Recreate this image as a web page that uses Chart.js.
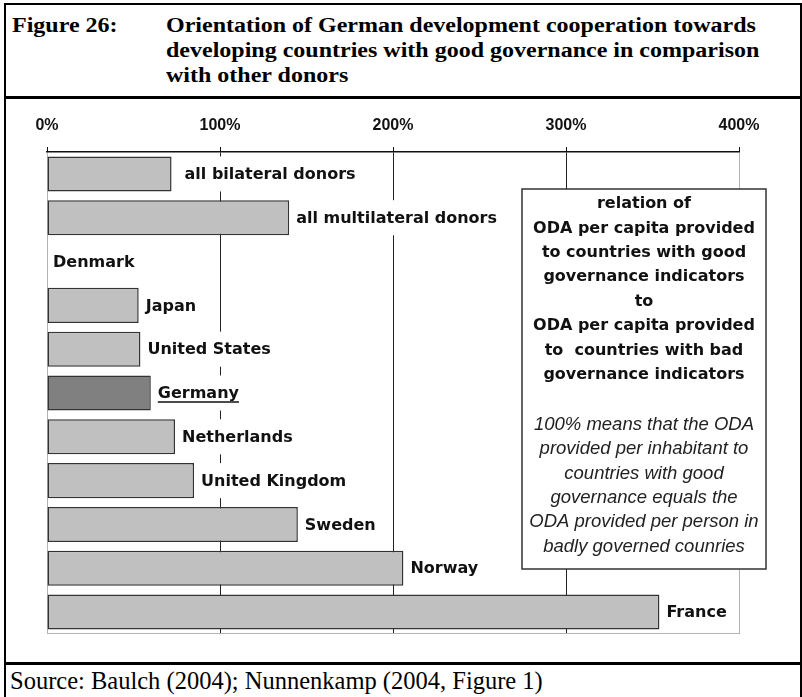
<!DOCTYPE html>
<html lang="en">
<head>
<meta charset="UTF-8">
<title>Figure 26</title>
<script src="https://cdn.jsdelivr.net/npm/chart.js"></script>
<style>
    body { margin: 0; background: #fff; width: 802px; height: 697px; overflow: hidden; position: relative; }
    .frame { position: absolute; left: 4px; top: 3px; width: 794px; height: 720px; border: 2px solid #000; border-bottom: none; }
    .rule { position: absolute; left: 4px; width: 796px; height: 3px; background: #000; }
    .title {
        position: absolute; top: 13px;
        font-family: "Liberation Serif", "Times New Roman", serif;
        font-weight: bold; font-size: 20px; line-height: 25px;
        transform: scaleX(1.2); transform-origin: 0 0; white-space: nowrap; color: #000;
    }
    .source {
        position: absolute; left: 10px; top: 667px;
        font-family: "Liberation Serif", "Times New Roman", serif;
        font-size: 24.5px; line-height: 28px; white-space: nowrap; color: #000;
    }
    #chart { position: absolute; left: 6px; top: 99px; }
</style>
</head>
<body>
    <div class="frame"></div>
    <div class="title" style="left: 12px;">Figure 26:</div>
    <div class="title" style="left: 166px;">Orientation of German development cooperation towards<br>developing countries with good governance in comparison<br>with other donors</div>
    <div class="rule" style="top: 96px;"></div>
    <canvas id="chart" width="793" height="563"></canvas>
    <div class="rule" style="top: 662px;"></div>
    <div class="source">Source: Baulch (2004); Nunnenkamp (2004, Figure 1)</div>

<script>
    // data (ratio in %)
    var categories = ['all bilateral donors', 'all multilateral donors', 'Denmark', 'Japan', 'United States',
        'Germany', 'Netherlands', 'United Kingdom', 'Sweden', 'Norway', 'France'];
    var ratios = [72, 140, 0, 53, 54, 60, 74, 85, 145, 206, 354];
    var tickValues = [0, 100, 200, 300, 400];
    var highlighted = 'Germany';

    var noteBold = ['relation of', 'ODA per capita provided', 'to countries with good', 'governance indicators',
        'to', 'ODA per capita provided', 'to  countries with bad', 'governance indicators'];
    var noteItalic = ['100% means that the ODA', 'provided per inhabitant to', 'countries with good',
        'governance equals the', 'ODA provided per person in', 'badly governed counries'];

    var labelFont = 'bold 16px "DejaVu Sans", Verdana, sans-serif';

    // labels next to the bars, on a white patch that hides the grid
    var barLabels = {
        id: 'barLabels',
        beforeDatasetsDraw: function (chart) {
            var a = chart.chartArea, ctx = chart.ctx;
            ctx.save();
            ctx.strokeStyle = '#b4b4b4';
            ctx.lineWidth = 1;
            ctx.beginPath();
            ctx.moveTo(a.left, Math.round(a.bottom) - 0.5);
            ctx.lineTo(a.right, Math.round(a.bottom) - 0.5);
            ctx.stroke();
            ctx.restore();
        },
        afterDatasetsDraw: function (chart) {
            var ctx = chart.ctx;
            var meta = chart.getDatasetMeta(0);
            ctx.save();
            ctx.font = labelFont;
            ctx.textBaseline = 'middle';
            meta.data.forEach(function (bar, i) {
                var p = bar.getProps(['x', 'y', 'height'], true);
                var name = categories[i];
                var gap = ratios[i] ? 7 : 6;
                if (i === 0) gap = 13;
                var x = p.x + gap;
                var w = ctx.measureText(name).width;
                ctx.fillStyle = '#fff';
                ctx.fillRect(x - 3, p.y - p.height / 2, w + 6, p.height);
                ctx.fillStyle = '#111';
                ctx.fillText(name, x, p.y + 1);
                if (name === highlighted) {
                    ctx.strokeStyle = '#111';
                    ctx.lineWidth = 1.5;
                    ctx.beginPath();
                    ctx.moveTo(x, p.y + 9);
                    ctx.lineTo(x + w, p.y + 9);
                    ctx.stroke();
                }
            });
            ctx.restore();
        },
        afterDraw: function (chart) {
            var ctx = chart.ctx;
            var left = 516, top = 90, right = 760, bottom = 470;
            var cx = (left + right) / 2;
            ctx.save();
            ctx.fillStyle = '#fff';
            ctx.fillRect(left, top, right - left, bottom - top);
            ctx.strokeStyle = '#333';
            ctx.lineWidth = 1.5;
            ctx.strokeRect(left, top, right - left, bottom - top);
            ctx.textAlign = 'center';
            ctx.textBaseline = 'middle';
            ctx.fillStyle = '#111';
            ctx.font = labelFont;
            noteBold.forEach(function (line, i) {
                ctx.fillText(line, cx, top + 15 + i * 24.4);
            });
            ctx.fillStyle = '#222';
            ctx.font = 'italic 18.5px "Liberation Sans", Arial, sans-serif';
            noteItalic.forEach(function (line, i) {
                ctx.fillText(line, cx, top + 236 + i * 24.3);
            });
            ctx.restore();
        }
    };

    var chart = new Chart(document.getElementById('chart').getContext('2d'), {
        type: 'bar',
        data: {
            labels: categories,
            datasets: [{
                data: ratios,
                backgroundColor: function (c) { return categories[c.dataIndex] === highlighted ? '#808080' : '#c0c0c0'; },
                borderColor: '#333',
                borderWidth: function (c) { return c.raw ? 1.5 : 0; },
                borderSkipped: false,
                barPercentage: 0.8,
                categoryPercentage: 1
            }]
        },
        options: {
            indexAxis: 'y',
            responsive: false,
            animation: false,
            layout: { padding: { left: 41, right: 60, top: 0, bottom: 28 } },
            plugins: {
                legend: { display: false },
                tooltip: { enabled: false }
            },
            scales: {
                x: {
                    position: 'top',
                    min: 0,
                    max: 400,
                    afterBuildTicks: function (scale) {
                        scale.ticks = tickValues.map(function (v) { return { value: v }; });
                    },
                    afterFit: function (scale) { scale.height = 53; },
                    ticks: {
                        padding: 12,
                        color: '#111',
                        font: { family: '"Liberation Sans", Arial, sans-serif', size: 16, weight: 'bold' },
                        callback: function (v) { return v + '%'; }
                    },
                    grid: {
                        color: function (c) {
                            var v = c.tick ? c.tick.value : 0;
                            return (v === 0 || v === 400) ? '#b4b4b4' : '#222';
                        },
                        lineWidth: 1,
                        drawTicks: true,
                        tickLength: 5,
                        tickColor: '#111'
                    },
                    border: { color: '#111', width: 1.5 }
                },
                y: { display: false }
            }
        },
        plugins: [barLabels]
    });
</script>
</body>
</html>
